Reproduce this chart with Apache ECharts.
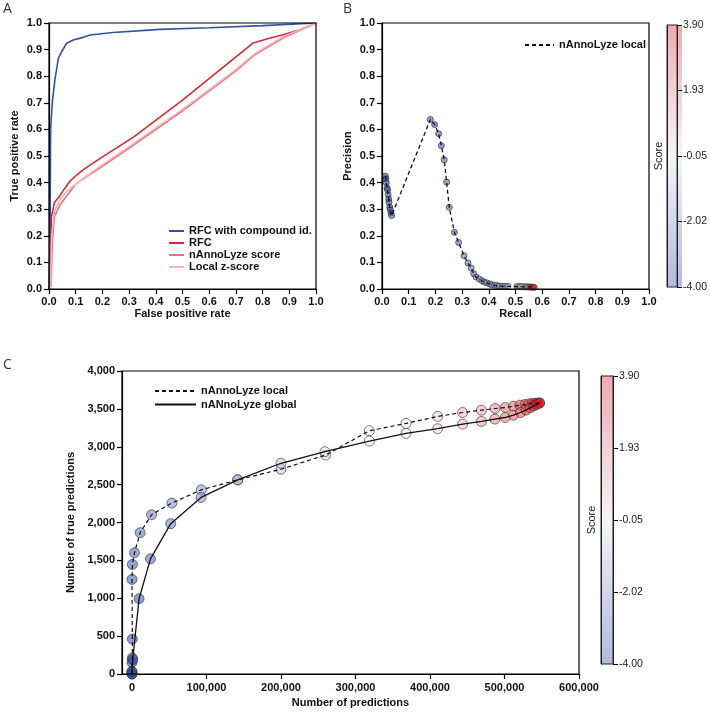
<!DOCTYPE html>
<html><head><meta charset="utf-8">
<script src="https://cdn.jsdelivr.net/npm/echarts@6/dist/echarts.min.js"></script>
<style>html,body{margin:0;padding:0;background:#fff}#c{width:710px;height:712px}</style>
</head><body><div id="c"></div><script>
// ---- Panel A: ROC curves ----
const blueFpr = [0, 0.004, 0.006, 0.012, 0.022, 0.035, 0.047, 0.066, 0.091, 0.128, 0.154, 0.24, 0.416, 0.6, 0.8, 1.0];
const blueTpr = [0, 0.2, 0.598, 0.698, 0.786, 0.867, 0.892, 0.924, 0.936, 0.946, 0.955, 0.964, 0.976, 0.982, 0.99, 1.0];
const rfcFpr = [0.008, 0.009, 0.02, 0.04, 0.06, 0.078, 0.1, 0.13, 0.19, 0.315, 0.5, 0.765, 0.815, 0.88, 0.94, 1.0];
const rfcTpr = [0.01, 0.27, 0.325, 0.35, 0.38, 0.405, 0.425, 0.45, 0.49, 0.57, 0.71, 0.925, 0.94, 0.957, 0.975, 1.0];
const nalFpr = [0.008, 0.012, 0.02, 0.04, 0.1, 0.19, 0.3, 0.5, 0.7, 0.77, 0.88, 1.0];
const nalTpr = [0.01, 0.17, 0.27, 0.315, 0.395, 0.455, 0.53, 0.67, 0.82, 0.88, 0.945, 1.0];
const lzFpr = [0.006, 0.01, 0.02, 0.04, 0.07, 0.1, 0.19, 0.3, 0.5, 0.7, 0.77, 0.88, 1.0];
const lzTpr = [0.01, 0.2, 0.29, 0.335, 0.37, 0.395, 0.46, 0.535, 0.675, 0.825, 0.885, 0.95, 1.0];
const rocNames = ['RFC with compound id.', 'RFC', 'nAnnoLyze score', 'Local z-score'];

// ---- Panel B: precision / recall ----
const bRecall = [0.0125,0.015,0.016,0.019,0.021,0.023,0.025,0.026,0.029,0.031,0.034,0.036,
  0.181,0.197,0.212,0.222,0.233,0.242,0.252,0.271,0.287,0.307,0.322,0.334,0.343,0.352,0.364,0.374,0.383,0.393,0.403,0.411,0.421,0.43,0.44,0.45,0.461,0.471,
  0.505,0.512,0.518,0.524,0.53,0.535,0.54,0.545,0.55,0.555,0.56,0.565,0.57];
const bPrecision = [0.424,0.414,0.40,0.38,0.373,0.355,0.338,0.326,0.308,0.298,0.286,0.276,
  0.637,0.618,0.584,0.539,0.486,0.402,0.307,0.213,0.175,0.125,0.098,0.079,0.058,0.045,0.038,0.031,0.026,0.023,0.019,0.016,0.014,0.013,0.011,0.01,0.01,0.01,
  0.009,0.009,0.009,0.009,0.008,0.008,0.008,0.008,0.008,0.007,0.007,0.007,0.006];
const bScore = [-4.0,-3.95,-3.9,-3.85,-3.8,-3.75,-3.7,-3.65,-3.6,-3.55,-3.5,-3.45,
  -3.4,-3.35,-3.3,-3.25,-3.2,-3.15,-3.1,-3.05,-3.0,-2.95,-2.9,-2.85,-2.8,-2.75,-2.7,-2.65,-2.6,-2.55,-2.5,-2.45,-2.4,-2.35,-2.3,-2.25,-2.2,-2.15,
  -1.8,-1.4,-1.0,-0.6,-0.2,0.3,0.8,1.3,1.8,2.3,2.8,3.4,3.9];

// ---- Panel C: cumulative predictions ----
const cLocalX = [0,0,0,500,500,0,500,3300,11000,26300,53500,93000,141900,200000,260000,318600,367800,410300,443800,469000,487300,501000,512000,520700,527400,532600,537000,540700,544000,547000];
const cLocalY = [0,34,153,211,461,1249,1446,1600,1866,2103,2256,2431,2563,2703,2891,3211,3308,3400,3452,3483,3505,3518,3535,3549,3557,3566,3570,3575,3575,3579];
const cLocalScore = [-4,-3.95,-3.9,-3.85,-3.6,-3.3,-3.2,-3.05,-2.8,-2.5,-2.25,-1.95,-1.6,-1.1,-0.6,-0.1,0.2,0.6,1.0,1.35,1.7,2.0,2.3,2.6,2.85,3.1,3.3,3.5,3.7,3.9];
const cGlobalX = [0,0,1000,9500,24800,52000,92700,141900,200000,259000,318600,367800,410300,443800,469000,487000,501000,512000,521600,528800,534500,539300,543100,547000];
const cGlobalY = [0,30,190,994,1520,1985,2331,2563,2782,2935,3075,3176,3238,3299,3334,3365,3386,3417,3452,3483,3514,3540,3557,3575];
const cGlobalScore = [-4,-3.95,-3.9,-3.4,-3.0,-2.6,-2.1,-1.6,-1.1,-0.6,-0.1,0.2,0.6,1.0,1.35,1.7,2.0,2.3,2.6,2.9,3.2,3.45,3.7,3.9];
const cNames = ['nAnnoLyze local', 'nANnoLyze global'];

// ---- Colour scale ----
const scoreMin = -4.0, scoreMax = 3.9;
const scoreTicks = [-4.0, -2.02, -0.05, 1.93, 3.9];
const cXTicks = [0, 100000, 200000, 300000, 400000, 500000, 600000];

const zip = (a, b, c) => a.map((v, i) => c ? [v, b[i], c[i]] : [v, b[i]]);
const FONT = 'Liberation Sans';
const lbl = {fontFamily: FONT, fontWeight: 'bold', fontSize: 11, color: '#111'};
const nameStyle = {fontFamily: FONT, fontWeight: 'bold', fontSize: 11, color: '#111'};

function unitAxis(gi, name, gap) {
  return {
    type: 'value', gridIndex: gi, min: 0, max: 1, interval: 0.1,
    name: name, nameLocation: 'middle', nameGap: gap, nameTextStyle: nameStyle,
    axisLine: {show: true, onZero: false, lineStyle: {color: '#000', width: 1.2}},
    axisTick: {show: true, inside: false, length: 5, lineStyle: {color: '#000', width: 1.2}},
    axisLabel: Object.assign({formatter: v => v.toFixed(1), margin: 7}, lbl),
    splitLine: {show: false}
  };
}
function cbarAxes(gi, gap) {
  return [{
    type: 'value', gridIndex: gi, position: 'right', min: scoreMin, max: scoreMax,
    axisLine: {show: true, onZero: false, lineStyle: {color: '#222', width: 1}},
    axisTick: {show: true, length: 5, customValues: scoreTicks, lineStyle: {color: '#000', width: 1}},
    axisLabel: {show: true, customValues: scoreTicks, formatter: v => v.toFixed(2), margin: 6,
      fontFamily: FONT, fontSize: 10.5, color: '#222'},
    splitLine: {show: false}, z: 10
  }, {
    type: 'value', gridIndex: gi, position: 'left', min: scoreMin, max: scoreMax,
    name: 'Score', nameLocation: 'middle', nameGap: gap,
    nameTextStyle: {fontFamily: FONT, fontSize: 11, color: '#222'},
    axisLine: {show: true, onZero: false, lineStyle: {color: '#222', width: 1}},
    axisTick: {show: false}, axisLabel: {show: false}, splitLine: {show: false}, z: 10
  }];
}
const hiddenX = gi => ({type: 'value', gridIndex: gi, min: 0, max: 1, show: false});

const pointColors = ['#2f4aa6', '#ffffff', '#e3141e'];
const barColors = ['#a7b3dc', '#ffffff', '#f4a2a8'];

const chart = echarts.init(document.getElementById('c'), null, {renderer: 'canvas'});
const option = {
  animation: false,
  backgroundColor: '#fff',
  graphic: [
    {type: 'text', left: 3, top: 2, style: {text: 'A', font: '14px "Open Sans"', fill: '#333'}},
    {type: 'text', left: 343, top: 2, style: {text: 'B', font: '14px "Open Sans"', fill: '#333'}},
    {type: 'text', left: 3, top: 358, style: {text: 'C', font: '14px "Open Sans"', fill: '#333'}}
  ],
  grid: [
    {left: 49, top: 23, width: 267, height: 266, show: true, borderColor: '#000', borderWidth: 1.2, z: 5, backgroundColor: 'transparent'},
    {left: 382, top: 23, width: 267, height: 266, show: true, borderColor: '#000', borderWidth: 1.2, z: 5, backgroundColor: 'transparent'},
    {left: 667, top: 25, width: 15, height: 262, show: true, borderColor: '#222', borderWidth: 1, z: 10, backgroundColor: 'transparent'},
    {left: 122, top: 371, width: 457, height: 303, show: true, borderColor: '#000', borderWidth: 1.2, z: 5, backgroundColor: 'transparent'},
    {left: 601, top: 376, width: 12, height: 288, show: true, borderColor: '#222', borderWidth: 1, z: 10, backgroundColor: 'transparent'}
  ],
  xAxis: [
    unitAxis(0, 'False positive rate', 19),
    unitAxis(1, 'Recall', 19),
    hiddenX(2),
    {
      type: 'value', gridIndex: 3, min: -13400, max: 600000,
      name: 'Number of predictions', nameLocation: 'middle', nameGap: 23, nameTextStyle: nameStyle,
      axisLine: {show: true, onZero: false, lineStyle: {color: '#000', width: 1.2}},
      axisTick: {show: true, length: 5, customValues: cXTicks, lineStyle: {color: '#000', width: 1.2}},
      axisLabel: Object.assign({customValues: cXTicks, formatter: v => v.toLocaleString('en-US'), margin: 8}, lbl),
      splitLine: {show: false}
    },
    hiddenX(4)
  ],
  yAxis: [
    unitAxis(0, 'True positive rate', 29),
    unitAxis(1, 'Precision', 29),
    ...cbarAxes(2, 3),
    {
      type: 'value', gridIndex: 3, min: 0, max: 4000, interval: 500,
      name: 'Number of true predictions', nameLocation: 'middle', nameGap: 46, nameTextStyle: nameStyle,
      axisLine: {show: true, onZero: false, lineStyle: {color: '#000', width: 1.2}},
      axisTick: {show: true, length: 5, lineStyle: {color: '#000', width: 1.2}},
      axisLabel: Object.assign({formatter: v => v.toLocaleString('en-US'), margin: 7}, lbl),
      splitLine: {show: false}
    },
    ...cbarAxes(4, 4)
  ],
  legend: [
    {data: rocNames, left: 163, top: 220, orient: 'vertical', itemWidth: 15, itemHeight: 10, itemGap: 0,
      itemStyle: {opacity: 0}, textStyle: Object.assign({lineHeight: 12}, lbl), selectedMode: false},
    {data: ['nAnnoLyze local'], left: 519, top: 34, itemWidth: 29, itemHeight: 10,
      itemStyle: {opacity: 0}, textStyle: Object.assign({lineHeight: 12}, lbl), selectedMode: false},
    {data: cNames, left: 149, top: 380, orient: 'vertical', itemWidth: 41, itemHeight: 10, itemGap: 1.5,
      itemStyle: {opacity: 0}, textStyle: Object.assign({lineHeight: 12}, lbl), selectedMode: false}
  ],
  visualMap: [
    {type: 'continuous', seriesIndex: 5, dimension: 2, min: scoreMin, max: scoreMax,
      left: 667, top: 25, itemWidth: 15, itemHeight: 262, padding: 0, calculable: false, hoverLink: false,
      showLabel: false, text: null, z: 1,
      inRange: {color: pointColors, colorAlpha: [0.78, 0.78]},
      controller: {inRange: {color: barColors}}},
    {type: 'continuous', seriesIndex: [8, 9], dimension: 2, min: scoreMin, max: scoreMax,
      left: 601, top: 376, itemWidth: 12, itemHeight: 288, padding: 0, calculable: false, hoverLink: false,
      showLabel: false, text: null, z: 1,
      inRange: {color: pointColors, colorAlpha: [0.78, 0.78]},
      controller: {inRange: {color: barColors}}}
  ],
  series: [
    {type: 'line', name: rocNames[0], xAxisIndex: 0, yAxisIndex: 0, data: zip(blueFpr, blueTpr), symbol: 'none',
      lineStyle: {color: '#34529e', width: 1.6}, itemStyle: {color: '#34529e'}},
    {type: 'line', name: rocNames[1], xAxisIndex: 0, yAxisIndex: 0, data: zip(rfcFpr, rfcTpr), symbol: 'none',
      lineStyle: {color: '#d42a35', width: 1.6}, itemStyle: {color: '#d42a35'}},
    {type: 'line', name: rocNames[2], xAxisIndex: 0, yAxisIndex: 0, data: zip(nalFpr, nalTpr), symbol: 'none',
      lineStyle: {color: '#e8717b', width: 1.6}, itemStyle: {color: '#e8717b'}},
    {type: 'line', name: rocNames[3], xAxisIndex: 0, yAxisIndex: 0, data: zip(lzFpr, lzTpr), symbol: 'none',
      lineStyle: {color: '#f5b3ba', width: 1.6}, itemStyle: {color: '#f5b3ba'}},
    {type: 'line', name: 'nAnnoLyze local', xAxisIndex: 1, yAxisIndex: 1, data: zip(bRecall, bPrecision), symbol: 'none',
      lineStyle: {color: '#111', width: 1.3, type: [4, 3]}, itemStyle: {color: '#111'}},
    {type: 'scatter', name: 'bPoints', xAxisIndex: 1, yAxisIndex: 1, data: zip(bRecall, bPrecision, bScore),
      symbolSize: 6, clip: false, itemStyle: {borderColor: '#222', borderWidth: 0.8}},
    {type: 'line', name: cNames[0], xAxisIndex: 3, yAxisIndex: 4, data: zip(cLocalX, cLocalY), symbol: 'none',
      lineStyle: {color: '#111', width: 1.2, type: [4, 3]}, itemStyle: {color: '#111'}},
    {type: 'line', name: cNames[1], xAxisIndex: 3, yAxisIndex: 4, data: zip(cGlobalX, cGlobalY), symbol: 'none',
      lineStyle: {color: '#111', width: 1.3}, itemStyle: {color: '#111'}},
    {type: 'scatter', name: 'cLocalPts', xAxisIndex: 3, yAxisIndex: 4, data: zip(cLocalX, cLocalY, cLocalScore),
      symbolSize: 10, clip: false, itemStyle: {borderColor: '#333', borderWidth: 0.8}},
    {type: 'scatter', name: 'cGlobalPts', xAxisIndex: 3, yAxisIndex: 4, data: zip(cGlobalX, cGlobalY, cGlobalScore),
      symbolSize: 10, clip: false, itemStyle: {borderColor: '#333', borderWidth: 0.8}}
  ]
};
chart.setOption(option);
</script></body></html>
